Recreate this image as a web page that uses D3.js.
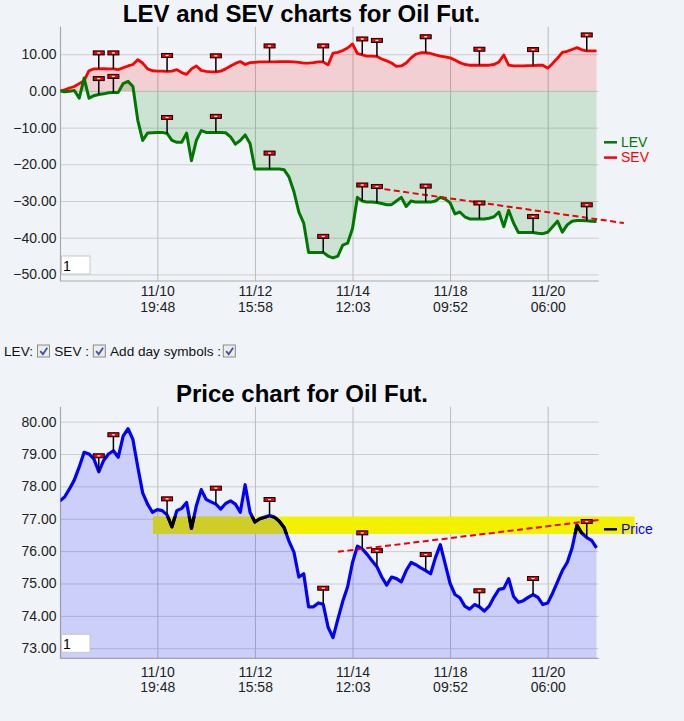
<!DOCTYPE html>
<html>
<head>
<meta charset="utf-8">
<script src="https://cdn.jsdelivr.net/npm/d3@7"></script>
<style>
body { margin: 0; background: #f0f4f8; }
svg { display: block; font-family: "Liberation Sans", Arial, sans-serif; }
</style>
</head>
<body>
<svg id="page" width="684" height="721"></svg>
<script>
// time axis: one sample per slot, labels every 20 slots
var ticks = [20, 40, 60, 80, 100];
var tickDays = ['11/10', '11/12', '11/14', '11/18', '11/20'];
var tickTimes = ['19:48', '15:58', '12:03', '09:52', '06:00'];

var levTicks = [10, 0, -10, -20, -30, -40, -50];
var priceTicks = [80, 79, 78, 77, 76, 75, 74, 73];

var sev = [0, 0.3, 0.8, 1.2, 2.0, 2.8, 5.5, 6.0, 6.0, 6.1,
    6.0, 6.0, 5.8, 6.3, 6.8, 7.2, 8.5, 7.6, 6.0, 5.5,
    5.4, 5.4, 5.3, 5.4, 5.8, 5.0, 4.5, 6.0, 6.8, 5.6,
    5.3, 5.2, 5.2, 5.4, 6.0, 6.8, 7.5, 8.0, 7.2, 7.7,
    7.8, 7.9, 7.9, 7.9, 7.9, 8.0, 8.0, 8.0, 7.9, 7.8,
    7.6, 7.6, 7.7, 7.9, 7.9, 7.1, 10.3, 10.5, 11.0, 11.7,
    12.8, 10.2, 9.8, 9.5, 9.5, 9.4, 8.7, 8.2, 7.6, 6.7,
    6.8, 7.6, 9.0, 10.0, 10.4, 10.4, 10.2, 9.8, 9.5, 9.3,
    9.0, 8.4, 7.7, 7.2, 7.0, 7.0, 7.0, 7.0, 7.0, 7.2,
    7.9, 9.8, 7.0, 6.8, 6.8, 6.8, 6.9, 6.9, 7.0, 7.0,
    6.2, 7.5, 8.9, 10.5, 10.8, 11.3, 11.8, 11.2, 10.9, 10.9,
    10.9];

var lev = [0, -0.2, -0.1, 0.1, -2.0, 3.5, -2.0, -1.3, -1.0, -0.8,
    -0.5, -0.4, -0.4, 2.0, 2.6, 1.2, -8.0, -13.5, -11.5, -11.4,
    -11.3, -11.3, -11.6, -13.5, -14.0, -14.0, -11.5, -19.0, -13.5, -10.8,
    -11.3, -11.3, -11.3, -11.3, -11.4, -12.5, -14.5, -13.5, -12.0, -14.3,
    -21.3, -21.3, -21.3, -21.3, -21.3, -21.3, -21.5, -23.5, -27.5, -33.0,
    -36.0, -44.0, -44.0, -44.0, -44.0, -45.0, -45.5, -45.0, -42.0, -41.5,
    -37.5, -29.0, -30.0, -30.3, -30.3, -30.4, -30.7, -31.0, -31.0, -30.0,
    -29.0, -31.5, -30.0, -30.3, -30.3, -30.3, -30.3, -30.0, -29.0, -29.5,
    -30.5, -33.5, -33.0, -34.3, -34.9, -34.9, -34.9, -34.9, -34.7, -34.3,
    -33.0, -37.0, -32.5, -36.0, -38.6, -38.6, -38.6, -38.6, -38.8, -38.9,
    -38.5, -37.0, -35.5, -38.5, -36.5, -35.5, -35.3, -35.3, -35.4, -35.5,
    -35.6];

var price = [77.55, 77.67, 77.92, 78.2, 78.6, 79.05, 79.0, 78.85, 78.45, 78.8,
    79.0, 79.1, 78.9, 79.55, 79.78, 79.45, 78.6, 77.8, 77.45, 77.2,
    77.28, 77.25, 77.12, 76.75, 77.25, 77.32, 77.5, 76.7, 77.4, 77.9,
    77.6, 77.52, 77.45, 77.3, 77.47, 77.55, 77.45, 77.2, 78.05, 77.2,
    76.9, 77.0, 77.05, 77.1, 77.05, 76.92, 76.72, 76.3, 75.97, 75.2,
    75.3, 74.28, 74.28, 74.4, 74.36, 73.65, 73.33, 73.9, 74.45, 74.9,
    75.65, 76.15, 76.07, 75.9, 75.7, 75.52, 75.2, 74.95, 75.2, 75.15,
    75.05, 75.4, 75.65, 75.58, 75.48, 75.4, 75.3, 75.8, 76.2, 75.6,
    75.0, 74.66, 74.56, 74.3, 74.21, 74.35, 74.28, 74.15, 74.3, 74.58,
    74.82, 74.85, 75.15, 74.6, 74.42, 74.47, 74.57, 74.66, 74.57, 74.35,
    74.4, 74.7, 75.05, 75.4, 75.65, 76.1, 76.8, 76.55, 76.42, 76.33,
    76.1];

var daySymbols = [8, 11, 22, 32, 43, 54, 62, 65, 75, 86, 97, 108];

var levTrend = [[64.6, -26.4], [115.6, -36.0]];
var priceTrend = [[57, 75.98], [110.4, 76.96]];
var bandLevels = [76.53, 77.07];
var bandSpan = [19.1, 117.8];

var svg = d3.select("#page");
var x = d3.scaleLinear().domain([0.16, 110.45]).range([60.5, 598.7]);
var levY = d3.scaleLinear().domain([-51.8, 17.5]).range([281, 26.7]);
var priceY = d3.scaleLinear().domain([72.69, 80.46]).range([658.3, 406.7]);
var plotW = x.range()[1] - x.range()[0];

var drawFrame = function(y, yTicks, labelOff, id) {
    var top = y.range()[1], bottom = y.range()[0];
    svg.append("defs").append("clipPath").attr("id", id)
        .append("rect")
        .attr("x", x.range()[0]).attr("y", top)
        .attr("width", plotW).attr("height", bottom - top);

    var gy = svg.append("g")
        .attr("transform", "translate(" + x.range()[0] + ",0)")
        .call(d3.axisLeft(y).tickValues(yTicks).tickSize(-plotW).tickPadding(4)
            .tickFormat(d3.format(".2f")));
    gy.select(".domain").remove();
    gy.selectAll(".tick line").style("stroke", "#cdcdcd");
    gy.selectAll(".tick text").attr("font-size", 14).attr("font-family", null)
        .style("fill", "#222");

    var gx = svg.append("g")
        .attr("transform", "translate(0," + bottom + ")")
        .call(d3.axisBottom(x).tickValues(ticks).tickSize(-(bottom - top)));
    gx.select(".domain").remove();
    gx.selectAll(".tick line").style("stroke", "#bcbcbc");
    gx.selectAll(".tick text").each(function(d, i) {
        var t = d3.select(this).text(null).attr("dy", null).attr("y", 0)
            .attr("font-size", 14).style("fill", "#222");
        t.append("tspan").attr("x", 0).attr("y", labelOff).text(tickDays[i]);
        t.append("tspan").attr("x", 0).attr("y", labelOff + 15.5).text(tickTimes[i]);
    });
    gx.attr("font-family", null);
    gy.attr("font-family", null);

    svg.append("path")
        .attr("d", "M" + x.range()[0] + "," + top + "V" + bottom + "H" + x.range()[1])
        .style("fill", "none").style("stroke", "#a9a9a9").style("stroke-width", 1.2);
};

var areaOf = function(y, base) {
    return d3.area().x(function(d, i) { return x(i); })
        .y0(base).y1(function(d) { return y(d); });
};
var lineOf = function(y) {
    return d3.line().x(function(d, i) { return x(i); })
        .y(function(d) { return y(d); });
};

var drawSeries = function(data, y, base, color, clip) {
    svg.append("path").datum(data)
        .attr("d", areaOf(y, base))
        .attr("clip-path", "url(#" + clip + ")")
        .style("fill", color).style("fill-opacity", 0.15);
};
var drawLine = function(data, y, color, clip, w) {
    return svg.append("path").datum(data)
        .attr("d", lineOf(y))
        .attr("clip-path", "url(#" + clip + ")")
        .style("fill", "none").style("stroke", color)
        .style("stroke-width", w).style("stroke-linejoin", "round");
};

var drawFlags = function(data, y) {
    var f = svg.append("g").selectAll("g").data(daySymbols).enter().append("g")
        .attr("transform", function(d) { return "translate(" + x(d) + "," + y(data[d]) + ")"; });
    f.append("line").attr("y1", 0).attr("y2", -14)
        .style("stroke", "#000").style("stroke-width", 1.5);
    f.append("rect").attr("x", -5.5).attr("y", -18).attr("width", 11).attr("height", 4)
        .style("fill", "#f00000").style("stroke", "#000").style("stroke-width", 1);
    f.append("rect").attr("x", -1.5).attr("y", -16.6).attr("width", 3).attr("height", 1.2)
        .style("fill", "#fff");
};

var drawTrend = function(pts, y) {
    svg.append("line")
        .attr("x1", x(pts[0][0])).attr("y1", y(pts[0][1]))
        .attr("x2", x(pts[1][0])).attr("y2", y(pts[1][1]))
        .style("stroke", "#f00000").style("stroke-width", 2)
        .style("stroke-dasharray", "6,3.5");
};

var inputBox = function(y0) {
    svg.append("rect").attr("x", 61.5).attr("y", y0).attr("width", 28.5).attr("height", 18)
        .style("fill", "#fff").style("stroke", "#c8c8c8");
    svg.append("text").attr("x", 63).attr("y", y0 + 14.5).attr("font-size", 14).text("1");
};

var legend = function(items, y0) {
    items.forEach(function(it, i) {
        var yy = y0 + i * 15.3;
        svg.append("line").attr("x1", 604).attr("x2", 617).attr("y1", yy).attr("y2", yy)
            .style("stroke", it[1]).style("stroke-width", 2.5);
        svg.append("text").attr("x", 621).attr("y", yy + 4.6).attr("font-size", 14)
            .style("fill", it[2]).text(it[0]);
    });
};

// LEV / SEV chart
svg.append("text").attr("x", 301.5).attr("y", 21.7).attr("text-anchor", "middle")
    .attr("font-size", 24).attr("font-weight", "bold").text("LEV and SEV charts for Oil Fut.");
drawFrame(levY, levTicks, 15, "clipLev");
drawSeries(sev, levY, levY(0), "#ff0000", "clipLev");
drawSeries(lev, levY, levY(0), "#008000", "clipLev");
drawLine(sev, levY, "#ff0000", "clipLev", 2.8);
drawLine(lev, levY, "#007800", "clipLev", 3);
drawTrend(levTrend, levY);
drawFlags(sev, levY);
drawFlags(lev, levY);
inputBox(256);
legend([["LEV", "#007800", "#007800"], ["SEV", "#ff0000", "#ff0000"]], 142.3);

// checkbox row
var checks = [["LEV:", 4, 37.5], ["SEV :", 54.3, 93.3], ["Add day symbols :", 110, 223.3]];
checks.forEach(function(c) {
    svg.append("text").attr("x", c[1]).attr("y", 356).attr("font-size", 13.6)
        .style("fill", "#111").text(c[0]);
    svg.append("rect").attr("x", c[2]).attr("y", 345).attr("width", 12).attr("height", 12)
        .style("fill", "#ececec").style("stroke", "#8a8a8a");
    svg.append("path")
        .attr("d", "M" + (c[2] + 2.8) + "," + 351.2 + "l2.6,3l4.4,-6.4")
        .style("fill", "none").style("stroke", "#3d55a0").style("stroke-width", 1.8);
});

// price chart
svg.append("text").attr("x", 302).attr("y", 401.7).attr("text-anchor", "middle")
    .attr("font-size", 24).attr("font-weight", "bold").text("Price chart for Oil Fut.");
drawFrame(priceY, priceTicks, 18.6, "clipPrice");
svg.append("rect")
    .attr("x", x(bandSpan[0])).attr("y", priceY(bandLevels[1]))
    .attr("width", x(bandSpan[1]) - x(bandSpan[0]))
    .attr("height", priceY(bandLevels[0]) - priceY(bandLevels[1]))
    .style("fill", "#f2f200");
svg.append("defs").append("clipPath").attr("id", "clipBand")
    .append("rect")
    .attr("x", x(bandSpan[0])).attr("y", priceY(bandLevels[1]))
    .attr("width", x.range()[1] - x(bandSpan[0]))
    .attr("height", priceY(bandLevels[0]) - priceY(bandLevels[1]));
drawSeries(price, priceY, priceY.range()[0], "#0000ff", "clipPrice");
drawLine(price, priceY, "#0000ff", "clipPrice", 3.2);
drawLine(price, priceY, "#000000", "clipBand", 3.2);
drawTrend(priceTrend, priceY);
drawFlags(price, priceY);
inputBox(634.3);
legend([["Price", "#000000", "#0000ff"]], 529.3);
</script>
</body>
</html>
